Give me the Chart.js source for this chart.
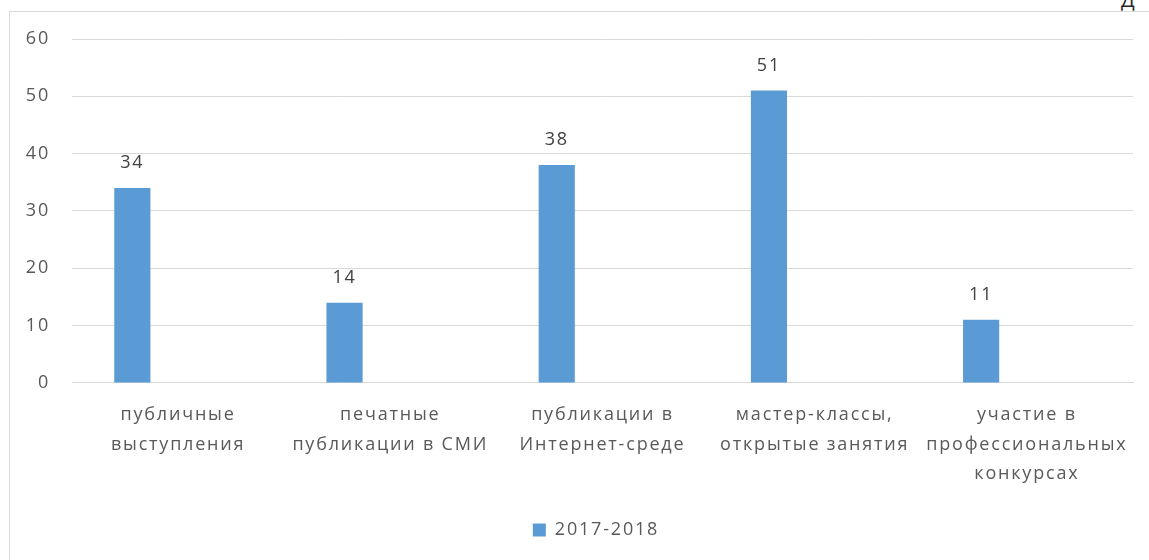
<!DOCTYPE html>
<html lang="ru">
<head>
<meta charset="utf-8">
<title>Chart</title>
<script src="https://cdn.jsdelivr.net/npm/chart.js@4/dist/chart.umd.min.js"></script>
<style>
  html, body { margin: 0; padding: 0; background: #fff; overflow: hidden; width: 1149px; height: 560px; }
  .frame { position: absolute; left: 9px; top: 11px; width: 1200px; height: 600px; border: 1px solid #d9d9d9; box-sizing: border-box; }
  .corner { position: absolute; left: 1121px; top: -14px; font: 20px "Open Sans", sans-serif; color: #262626; }
  #chart { position: absolute; left: 0; top: 0; }
</style>
</head>
<body>
<div class="frame"></div>
<div class="corner">Д</div>
<canvas id="chart" width="1192" height="560"></canvas>
<script>
/* ── DATA ── */
const categories = [
  ['публичные', 'выступления'],
  ['печатные', 'публикации в СМИ'],
  ['публикации в', 'Интернет-среде'],
  ['мастер-классы,', 'открытые занятия'],
  ['участие в', 'профессиональных', 'конкурсах']
];
const seriesNames = ['2017-2018', '', ''];
const values2017  = [34, 14, 38, 51, 11];
const valuesEmpty = [null, null, null, null, null];
const yTicks      = [0, 10, 20, 30, 40, 50, 60];

const FONT = '"Open Sans", sans-serif';
const TEXT = '#595959';
const GRID = '#d9d9d9';
const BLUE = '#5b9bd5';

/* ── WIDE TEXT (the original font runs wider) ── */
const spacing = {
  id: 'spacing',
  beforeUpdate(chart) { chart.ctx.letterSpacing = '1.8px'; },
  beforeDraw(chart)   { chart.ctx.letterSpacing = '1.8px'; }
};

/* ── VALUE LABELS ── */
const valueLabels = {
  id: 'valueLabels',
  afterDatasetsDraw(chart) {
    const ctx = chart.ctx;
    ctx.save();
    ctx.font = '18px ' + FONT;
    ctx.fillStyle = '#404040';
    ctx.textAlign = 'center';
    ctx.textBaseline = 'middle';
    chart.getDatasetMeta(0).data.forEach((bar, i) => {
      if (values2017[i] == null) return;
      ctx.fillText(String(values2017[i]), bar.x, bar.y - 25);
    });
    ctx.restore();
  }
};

/* ── CHART ── */
new Chart(document.getElementById('chart'), {
  type: 'bar',
  data: {
    labels: categories,
    datasets: [
      { label: seriesNames[0], data: values2017,  backgroundColor: BLUE },
      { label: seriesNames[1], data: valuesEmpty, backgroundColor: BLUE },
      { label: seriesNames[2], data: valuesEmpty, backgroundColor: BLUE }
    ]
  },
  options: {
    responsive: false,
    animation: false,
    categoryPercentage: 0.647,
    barPercentage: 0.79,
    layout: { padding: { top: 39, right: 0, bottom: 11, left: 0 } },
    plugins: {
      legend: {
        position: 'bottom',
        labels: {
          filter: item => item.text !== '',
          boxWidth: 13, boxHeight: 13, padding: 23,
          color: TEXT, font: { family: FONT, size: 18 }
        }
      },
      tooltip: { enabled: false }
    },
    scales: {
      x: {
        grid: { display: false },
        border: { display: true, color: GRID, width: 1 },
        ticks: {
          color: TEXT, maxRotation: 0, autoSkip: false, padding: 9,
          font: { family: FONT, size: 18, lineHeight: 1.65 }
        }
      },
      y: {
        min: 0, max: 60,
        afterFit: s => { s.width = 72; },
        afterBuildTicks: s => { s.ticks = yTicks.map(v => ({ value: v })); },
        grid: { color: GRID, drawTicks: false },
        border: { display: false },
        ticks: { color: TEXT, padding: 22, font: { family: FONT, size: 18 } }
      },
      // empty right margin, keeps the plot ending at 1133 while the legend centres wider
      spacer: {
        type: 'linear', position: 'right', display: true,
        afterFit: s => { s.width = 59; },
        grid: { display: false },
        border: { display: false },
        ticks: { display: false }
      }
    }
  },
  plugins: [spacing, valueLabels]
});
</script>
</body>
</html>
